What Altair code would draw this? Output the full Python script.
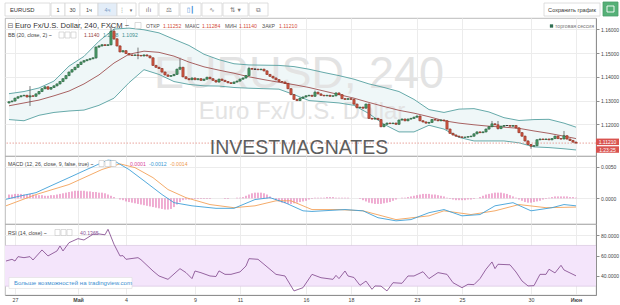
import altair as alt
import pandas as pd

FONT = "Liberation Sans"
GRID = "#ececec"
AXC = "#8f8f8f"

# ---------------- data ----------------
closes = [
    1.1295, 1.1298, 1.1310, 1.1316, 1.1320, 1.1322, 1.1315, 1.1320, 1.1318, 1.1328,
    1.1338, 1.1350, 1.1358, 1.1348, 1.1355, 1.1362, 1.1370, 1.1380, 1.1392, 1.1405,
    1.1420, 1.1430, 1.1440, 1.1452, 1.1462, 1.1468, 1.1472, 1.1476, 1.1480, 1.1525,
    1.1530, 1.1535, 1.1532, 1.1535, 1.1592, 1.1560, 1.1530, 1.1505, 1.1510, 1.1498,
    1.1492, 1.1490, 1.1492, 1.1490, 1.1488, 1.1492, 1.1488, 1.1480, 1.1448, 1.1440,
    1.1435, 1.1420, 1.1408, 1.1402, 1.1405, 1.1410, 1.1432, 1.1440, 1.1400, 1.1392,
    1.1388, 1.1395, 1.1388, 1.1392, 1.1385, 1.1390, 1.1398, 1.1392, 1.1385, 1.1378,
    1.1390, 1.1385, 1.1380, 1.1375, 1.1372, 1.1378, 1.1382, 1.1390, 1.1395, 1.1405,
    1.1435, 1.1432, 1.1432, 1.1430, 1.1432, 1.1425, 1.1410, 1.1402, 1.1395, 1.1388,
    1.1380, 1.1378, 1.1372, 1.1350, 1.1325, 1.1305, 1.1300, 1.1310, 1.1315, 1.1320,
    1.1322, 1.1318, 1.1335, 1.1328, 1.1322, 1.1320, 1.1322, 1.1318, 1.1320, 1.1332,
    1.1325, 1.1308, 1.1305, 1.1308, 1.1305, 1.1285, 1.1270, 1.1272, 1.1268, 1.1285,
    1.1225, 1.1222, 1.1225, 1.1220, 1.1190, 1.1200, 1.1205, 1.1203, 1.1205, 1.1200,
    1.1218, 1.1222, 1.1215, 1.1222, 1.1225, 1.1230, 1.1235, 1.1215, 1.1210, 1.1205,
    1.1208, 1.1220, 1.1218, 1.1215, 1.1218, 1.1215, 1.1180, 1.1162, 1.1155, 1.1150,
    1.1147, 1.1145, 1.1146, 1.1148, 1.1150, 1.1160, 1.1168, 1.1165, 1.1168, 1.1180,
    1.1190, 1.1202, 1.1198, 1.1182, 1.1192, 1.1195, 1.1195, 1.1192, 1.1195, 1.1185,
    1.1165, 1.1150, 1.1130, 1.1115, 1.1108, 1.1110, 1.1135, 1.1138, 1.1136, 1.1138,
    1.1135, 1.1140, 1.1150, 1.1140, 1.1138, 1.1152, 1.1138, 1.1132, 1.1125, 1.1121,
]
FIRST_OPEN = 1.1290
WICK = 0.0002
long_wick_bars = [7, 29, 34, 35, 43, 57, 80, 102, 161, 163, 174, 185]
long_wick_high = [1.1361, 1.1528, 1.1616, 1.1600, 1.1523, 1.1475, 1.1442, 1.1342, 1.1214, 1.1214, 1.1117, 1.1172]
long_wick_low = [1.1277, 1.1476, 1.1532, 1.1555, 1.1474, 1.1428, 1.1403, 1.1316, 1.1188, 1.1178, 1.1097, 1.1138]
ohlc_last = [1.11252, 1.11284, 1.11140, 1.11210]

bb_bars = list(range(0, 186, 5)) + [189]
bb_upper = [1.1329, 1.1338, 1.1353, 1.1382, 1.1445, 1.1486, 1.1550, 1.1601, 1.1605, 1.1598,
            1.1585, 1.1558, 1.1532, 1.1495, 1.1472, 1.1455, 1.1450, 1.1449, 1.1448, 1.1443,
            1.1432, 1.1418, 1.1405, 1.1390, 1.1370, 1.1355, 1.1338, 1.1305, 1.1262, 1.1250,
            1.1264, 1.1266, 1.1252, 1.1228, 1.1216, 1.1220, 1.1221, 1.1205, 1.1188]
bb_basis = [1.1278, 1.1290, 1.1302, 1.1320, 1.1340, 1.1370, 1.1408, 1.1458, 1.1495, 1.1508,
            1.1503, 1.1487, 1.1462, 1.1442, 1.1428, 1.1415, 1.1400, 1.1388, 1.1377, 1.1367,
            1.1355, 1.1340, 1.1325, 1.1310, 1.1292, 1.1275, 1.1259, 1.1247, 1.1232, 1.1215,
            1.1205, 1.1198, 1.1192, 1.1188, 1.1183, 1.1172, 1.1162, 1.1150, 1.1140]
bb_lower = [1.1220, 1.1215, 1.1238, 1.1250, 1.1256, 1.1260, 1.1280, 1.1310, 1.1375, 1.1430,
            1.1410, 1.1380, 1.1368, 1.1362, 1.1361, 1.1355, 1.1352, 1.1350, 1.1348, 1.1325,
            1.1300, 1.1295, 1.1290, 1.1280, 1.1245, 1.1200, 1.1168, 1.1168, 1.1196, 1.1180,
            1.1145, 1.1130, 1.1130, 1.1130, 1.1122, 1.1105, 1.1102, 1.1097, 1.1092]

macd_bars = [-1, 4, 9, 14, 20, 25, 31, 33, 35, 40, 45, 51, 55, 61, 69, 75, 82, 87, 92, 98,
             101, 112, 118, 123, 129, 134, 140, 145, 151, 157, 162, 168, 174, 181, 185, 189]
macd_vals = [-0.00016, 0.0004, 0.0009, 0.0020, 0.0033, 0.0044, 0.0057, 0.0061, 0.0060, 0.0046,
             0.0028, 0.0006, -0.0007, -0.0012, -0.0016, -0.0016, -0.0002, 0.0001, -0.0007, -0.0020,
             -0.0021, -0.0018, -0.0020, -0.0031, -0.0036, -0.0034, -0.0023, -0.0018, -0.0028, -0.0026,
             -0.0012, -0.0007, -0.0020, -0.0015, -0.0010, -0.0012]
signal_bars = [-1, 9, 20, 31, 37, 42, 48, 53, 59, 67, 75, 82, 89, 94, 101, 110, 118, 129, 140,
               145, 154, 162, 170, 179, 189]
signal_vals = [-0.0012, 0.0006, 0.0022, 0.0046, 0.0055, 0.0049, 0.0033, 0.0014, 0.0001, -0.0010,
               -0.0015, -0.0012, -0.0004, -0.0004, -0.0018, -0.0018, -0.0020, -0.0034, -0.0028,
               -0.0020, -0.0026, -0.0020, -0.0010, -0.0015, -0.0014]
hist_e4 = (
    [6, 6, 7, 7, 7, 6, 6, 7, 6] +
    [5, 5, 5, 4, 4, 5, 5, 6] +
    [7, 8, 9, 10, 11, 12, 12, 12, 12, 11, 11] +
    [10, 10, 9, 9, 8, 6, 4] +
    [2, 0, -2] +
    [-3, -5, -6, -7, -8, -9, -10, -11, -12, -13, -14, -15, -16, -17, -18, -18, -17, -14, -10, -6, -3] +
    [-2, -2, -1, -1, -1, -1, -1, -1, -1, 0, 0, 0, 0, -1, -1, 0, 0, 1, 1, 2] +
    [4, 6, 8, 9, 9, 9, 8, 6, 3] +
    [-1, -3, -5, -7, -8, -9, -9, -8, -7, -6, -5, -4, -2, -1] +
    [1, 1, 1, 1, 2, 2, 2, 1, 1, 1, 1, 1, 0, 0, 0, -1] +
    [-3, -5, -7, -8, -9, -9, -9, -8, -7, -6, -4, -2] +
    [0, 1, 1, 2, 3] +
    [4, 5, 6, 7, 7, 7, 6, 6, 5, 4, 3, 1] +
    [-1, -2, -3, -3, -3, -3, -2, -2, -1, 0] +
    [2, 4, 6, 7, 8, 9, 9, 9, 8, 7, 5, 3, 1] +
    [-2, -4, -6, -7, -7, -6, -5, -4, -2, -1] +
    [1, 2, 3, 3, 3, 3, 3, 2, 2, 1]
)

rsi_bars = [-1, 1, 2, 3, 5, 7, 8, 11, 13, 16, 17, 18, 20, 23, 25, 28, 30, 32, 33, 35, 37, 38, 39,
            43, 44, 48, 50, 53, 57, 59, 61, 62, 64, 67, 69, 70, 72, 74, 77, 79, 80, 83, 85, 89,
            92, 94, 95, 98, 101, 104, 108, 109, 110, 112, 113, 115, 117, 119, 121, 122, 124, 126,
            128, 131, 133, 135, 138, 140, 143, 146, 148, 151, 153, 155, 157, 159, 161, 162, 163,
            167, 169, 171, 173, 175, 177, 179, 180, 182, 184, 185, 189]
rsi_vals = [54.7, 56.4, 54.7, 59.0, 58.0, 59.0, 55.7, 65.6, 59.7, 64.6, 69.5, 64.6, 72.7, 76.7,
            75.4, 81.0, 81.3, 80.5, 85.9, 71.2, 59.7, 60.0, 56.4, 58.0, 56.0, 44.9, 40.0, 36.7,
            47.2, 43.3, 37.4, 44.9, 43.2, 40.0, 39.5, 45.0, 41.6, 41.6, 44.0, 49.8, 57.0, 56.4,
            51.5, 41.6, 40.0, 30.2, 25.3, 28.5, 41.6, 38.3, 36.7, 40.6, 37.4, 44.9, 40.0, 38.5,
            30.8, 35.0, 26.9, 30.2, 30.0, 25.3, 33.4, 32.8, 40.0, 40.0, 44.2, 37.4, 43.3, 41.6,
            33.4, 28.5, 31.8, 31.5, 37.4, 46.6, 53.8, 47.2, 51.5, 51.0, 43.9, 35.1, 30.2, 30.5,
            41.6, 41.6, 46.6, 43.0, 50.5, 45.9, 40.1365]
rsi_band = [30, 70]

tick_bars = [2, 23, 39, 62, 77, 99, 114, 136, 151, 174, 189]
tick_text = ["27", "Май", "4", "9", "11", "16", "18", "23", "25", "30", "Июн"]
month_ticks = [23, 189]
price_ticks = [1.12, 1.13, 1.14, 1.15, 1.16]
macd_ticks = [0.0, 0.005]
rsi_ticks = [40, 60, 80]

# ---------------- tables ----------------
opens = [FIRST_OPEN] + closes[:-1]
rows = []
for i, (o, c) in enumerate(zip(opens, closes)):
    hi, lo = max(o, c) + WICK, min(o, c) - WICK
    if i in long_wick_bars:
        k = long_wick_bars.index(i)
        hi, lo = long_wick_high[k], long_wick_low[k]
    d = "up" if c - o > 0.00004 else ("down" if o - c > 0.00004 else "flat")
    rows.append(dict(i=i, open=o, close=c, high=hi, low=lo, dir=d))
candles = pd.DataFrame(rows)
bb = pd.DataFrame(dict(i=bb_bars, upper=bb_upper, basis=bb_basis, lower=bb_lower))
macd_df = pd.DataFrame(dict(i=macd_bars, v=macd_vals))
sig_df = pd.DataFrame(dict(i=signal_bars, v=signal_vals))
hist_df = pd.DataFrame(dict(i=list(range(len(hist_e4))), h=[h * 1e-4 for h in hist_e4]))
rsi_df = pd.DataFrame(dict(i=rsi_bars, v=rsi_vals))

# ---------------- scales / axes ----------------
W = 591
xs = alt.Scale(domain=[-1.333, 195.667], nice=False, zero=False)
label_expr = " : ".join(f"datum.value == {b} ? '{t}'" for b, t in zip(tick_bars, tick_text)) + " : ''"
month_test = " || ".join(f"datum.value == {b}" for b in month_ticks)

x_hidden = alt.Axis(values=tick_bars, grid=True, gridColor=GRID, ticks=False, domain=False,
                    labels=False, title=None)
x_shown = alt.Axis(values=tick_bars, grid=True, gridColor=GRID, ticks=False, domain=True,
                   domainColor=AXC, labels=True, labelExpr=label_expr, labelFont=FONT,
                   labelFontSize=5.3, labelColor="#444", labelPadding=2, labelFlush=False,
                   labelOverlap=False, title=None,
                   labelFontWeight={"condition": {"test": month_test, "value": "bold"}, "value": "normal"})


def yaxis(values, fmt):
    return alt.Axis(orient="right", values=values, format=fmt, grid=True, gridColor=GRID,
                    domain=True, domainColor=AXC, ticks=True, tickColor=AXC, tickSize=3,
                    labelFont=FONT, labelFontSize=5, labelColor="#444", labelPadding=1.5,
                    title=None)


ys_price = alt.Scale(domain=[1.10666, 1.16476], nice=False, zero=False)
ys_macd = alt.Scale(domain=[-0.004105, 0.006757], nice=False, zero=False)
ys_rsi = alt.Scale(domain=[21.3, 91.1], nice=False, zero=False)
ax_price = yaxis(price_ticks, ".5f")
ax_macd = yaxis(macd_ticks, ".4f")
ax_rsi = yaxis(rsi_ticks, ".4f")


def X(f, axis):
    return alt.X(f, type="quantitative", scale=xs, axis=axis)


def Y(f, scale, axis):
    return alt.Y(f, type="quantitative", scale=scale, axis=axis)


ONE = [{"a": 1}]


def txt(s, px, py, ox, oy, size=5.2, color="#444", align="left", weight="normal",
        font=FONT, baseline="middle"):
    return alt.Chart(alt.Data(values=[{"t": s}])).mark_text(
        align=align, baseline=baseline, fontSize=size, color=color, fontWeight=weight, font=font
    ).encode(x=alt.value(px - ox), y=alt.value(py - oy), text="t:N")


def box(x1, y1, x2, y2, ox, oy, fill="white", stroke="#d6d6d6", sw=0.8):
    return alt.Chart(alt.Data(values=ONE)).mark_rect(fill=fill, stroke=stroke, strokeWidth=sw).encode(
        x=alt.value(x1 - ox), x2=alt.value(x2 - ox), y=alt.value(y1 - oy), y2=alt.value(y2 - oy))


def icons(x, y, ox, oy):
    return [box(x + 6 * k, y - 3, x + 6 * k + 5, y + 3, ox, oy, fill="white", stroke="#c4c4c4", sw=0.6)
            for k in range(3)]


# ---------------- toolbar ----------------
TX, TY = 3, 0
tb = [
    box(3, 2, 48, 15, TX, TY), txt("EURUSD", 8, 8.5, TX, TY, size=5.8, color="#333"),
    box(49, 2, 63, 15, TX, TY), box(63, 2, 78, 15, TX, TY), box(78, 2, 96, 15, TX, TY),
    box(96, 2, 115, 15, TX, TY, fill="#e3edf8"), box(115, 2, 134, 15, TX, TY),
    txt("1", 56, 8.5, TX, TY, size=5.5, align="center"),
    txt("30", 70.5, 8.5, TX, TY, size=5.5, align="center"),
    txt("1ч", 87, 8.5, TX, TY, size=5.5, align="center"),
    txt("4ч", 105.5, 8.5, TX, TY, size=5.5, align="center", color="#7a9cc6"),
    txt("⋮", 120, 8.5, TX, TY, size=6, align="center", font="DejaVu Sans", color="#666"),
    txt("▾", 129, 8.5, TX, TY, size=5, align="center", font="DejaVu Sans", color="#666"),
]
for (a, b_), g, col in [((137, 156), "ılı", "#777"), ((157, 177), "⚖", "#777"),
                        ((178, 199), "▯┃", "#3d8ed6"), ((200, 220), "∿", "#777"),
                        ((221, 246), "⇅ ▾", "#777"), ((247, 266), "⧉", "#777")]:
    tb.append(box(a, 2, b_, 15, TX, TY))
    tb.append(txt(g, (a + b_) / 2, 8.5, TX, TY, size=6.5, align="center", font="DejaVu Sans", color=col))
tb += [
    box(542, 2, 598, 15, TX, TY), txt("Сохранить график", 570, 8.5, TX, TY, size=5.6, align="center", color="#333"),
    box(601, 1, 616, 15, TX, TY, fill="#55b077", stroke="#4a9f69"),
    box(605, 5, 612, 11, TX, TY, fill="#55b077", stroke="white", sw=0.9),
]
toolbar = alt.layer(*tb).properties(width=W, height=17, view=alt.ViewBackground(stroke="transparent"))

# ---------------- main price pane ----------------
MX, MY = 3, 17
up_dn = alt.Scale(domain=["up", "down", "flat"], range=["#4f9e6c", "#d25a45", "#333333"])
up_dn_stroke = alt.Scale(domain=["up", "down", "flat"], range=["#24603b", "#8f2c1f", "#333333"])

base_bb = alt.Chart(bb)
bb_fill = base_bb.mark_area(color="#eff7f8").encode(
    x=X("i", x_hidden), y=Y("upper", ys_price, ax_price), y2="lower")
bb_up = base_bb.mark_line(color="#4c9b9b", strokeWidth=0.85).encode(x=X("i", x_hidden), y=Y("upper", ys_price, ax_price))
bb_lo = base_bb.mark_line(color="#4c9b9b", strokeWidth=0.85).encode(x=X("i", x_hidden), y=Y("lower", ys_price, ax_price))
bb_mid = base_bb.mark_line(color="#9b4747", strokeWidth=0.85).encode(x=X("i", x_hidden), y=Y("basis", ys_price, ax_price))

watermark = [
    txt("EURUSD, 240", 152, 87, MX, MY, size=45, color="#e3e3e3", baseline="alphabetic"),
    txt("Euro Fx/U.S. Dollar", 300, 118, MX, MY, size=24, color="#e3e3e3", align="center", baseline="alphabetic"),
]

hdr = [
    txt("⊟", 8.5, 24.5, MX, MY, size=7, color="#666", align="center", font="DejaVu Sans"),
    txt("Euro Fx/U.S. Dollar, 240, FXCM ~", 13, 24.5, MX, MY, size=7.6, color="#333"),
    box(133, 21.5, 139, 27.5, MX, MY, stroke="#c4c4c4", sw=0.6),
]
for lab, val, lx, vx in zip(["ОТКР", "МАКС", "МИН", "ЗАКР"], ohlc_last, [144, 183, 223, 260], [161, 200, 237, 277]):
    hdr.append(txt(lab, lx, 24.5, MX, MY, color="#555"))
    hdr.append(txt(f"{val:.5f}", vx, 24.5, MX, MY, color="#d4503c"))
hdr.append(txt("BB (20, close, 2) ~", 6, 34, MX, MY, size=5.3, color="#444"))
hdr += icons(57, 34, MX, MY)
hdr += [
    txt(f"{bb_basis[-1]:.4f}", 82, 34, MX, MY, color="#963f3f"),
    txt(f"{bb_upper[-1]:.4f}", 101, 34, MX, MY, color="#3f8f8f"),
    txt(f"{bb_lower[-1]:.4f}", 120, 34, MX, MY, color="#3f8f8f"),
    box(548, 23.5, 551, 26.5, MX, MY, fill="#2f6f52", stroke="#2f6f52", sw=0.3),
    txt("торговая сессия", 553, 25, MX, MY, size=5.2, color="#777"),
]

last_df = pd.DataFrame({"p": [closes[-1]]})
price_line = alt.Chart(last_df).mark_rule(color="#e79a92", strokeDash=[1.5, 1.5], strokeWidth=0.9).encode(
    y=Y("p", ys_price, ax_price))

cbase = alt.Chart(candles).transform_calculate(xa="datum.i - 0.37", xb="datum.i + 0.37")
wicks = alt.Chart(candles).mark_rule(color="#444", strokeWidth=0.7).encode(
    x=X("i", x_hidden), y=Y("low", ys_price, ax_price), y2="high")
bodies = cbase.mark_rect(strokeWidth=0.6).encode(
    x=X("xa", x_hidden), x2="xb:Q", y=Y("open", ys_price, ax_price), y2="close:Q",
    fill=alt.Fill("dir:N", scale=up_dn, legend=None),
    stroke=alt.Stroke("dir:N", scale=up_dn_stroke, legend=None))
dojis = cbase.transform_filter("datum.dir == 'flat'").mark_rule(color="#333", strokeWidth=0.9).encode(
    x=X("xa", x_hidden), x2="xb:Q", y=Y("close", ys_price, ax_price))

tag = alt.Chart(last_df)
price_tag = [
    tag.mark_rect(color="#d9534f", yOffset=-4.5, y2Offset=2).encode(
        x=alt.value(594 - MX), x2=alt.value(617 - MX), y=Y("p", ys_price, ax_price), y2="p:Q"),
    tag.mark_text(color="white", fontSize=5, font=FONT, align="center", baseline="middle", dy=-1.3).encode(
        x=alt.value(605.5 - MX), y=Y("p", ys_price, ax_price), text=alt.Text("p:Q", format=".5f")),
    tag.mark_rect(color="#d9534f", yOffset=3.2, y2Offset=9.7).encode(
        x=alt.value(594 - MX), x2=alt.value(617 - MX), y=Y("p", ys_price, ax_price), y2="p:Q"),
    txt("1:23:25", 605.5, 148.6, MX, MY, size=5, color="white", align="center"),
]

brand = txt("INVESTMAGNATES", 297, 153, MX, MY, size=19.5, color="#5e5e5e", align="center", baseline="alphabetic")

main = alt.layer(bb_fill, *watermark, bb_up, bb_lo, bb_mid, *hdr, price_line, wicks, bodies, dojis,
                 *price_tag, brand).properties(width=W, height=138)

# ---------------- MACD pane ----------------
CX, CY = 3, 155
hist = alt.Chart(hist_df).mark_rule(color="#dd4a9c", strokeWidth=0.9).encode(
    x=X("i", x_hidden), y=Y("h", ys_macd, ax_macd), y2=alt.datum(0))
macd_line = alt.Chart(macd_df).mark_line(color="#3fa0d8", strokeWidth=0.9).encode(
    x=X("i", x_hidden), y=Y("v", ys_macd, ax_macd))
sig_line = alt.Chart(sig_df).mark_line(color="#f3a159", strokeWidth=0.9).encode(
    x=X("i", x_hidden), y=Y("v", ys_macd, ax_macd))
macd_hdr = [txt("MACD (12, 26, close, 9, false, true) ~", 6, 162.5, CX, CY, size=5.2, color="#444")]
macd_hdr += icons(97, 162.5, CX, CY)
macd_hdr += [
    txt(f"{hist_e4[-1] * 1e-4:.4f}", 128, 162.5, CX, CY, color="#d9489a"),
    txt(f"{macd_vals[-1]:.4f}", 147, 162.5, CX, CY, color="#3a9ad4"),
    txt(f"{signal_vals[-1]:.4f}", 168, 162.5, CX, CY, color="#ee9a4f"),
]
macd = alt.layer(hist, sig_line, macd_line, *macd_hdr).properties(width=W, height=68)

# ---------------- RSI pane ----------------
RX, RY = 3, 223
band_df = pd.DataFrame({"lo": [rsi_band[0]], "hi": [rsi_band[1]]})
band = alt.Chart(band_df).mark_rect(color="#f4e5fb").encode(y=Y("hi", ys_rsi, ax_rsi), y2="lo:Q")
band_hi = alt.Chart(band_df).mark_rule(color="#d8c6e0", strokeWidth=0.7).encode(y=Y("hi", ys_rsi, ax_rsi))
band_lo = alt.Chart(band_df).mark_rule(color="#d8c6e0", strokeWidth=0.7).encode(y=Y("lo", ys_rsi, ax_rsi))
rsi_line = alt.Chart(rsi_df).mark_line(color="#8a5595", strokeWidth=0.9).encode(
    x=X("i", x_shown), y=Y("v", ys_rsi, ax_rsi))
rsi_hdr = [txt("RSI (14, close) ~", 6, 231.5, RX, RY, size=5.2, color="#444")]
rsi_hdr += icons(53, 231.5, RX, RY)
rsi_hdr += [
    txt(f"{rsi_vals[-1]:.4f}", 78, 231.5, RX, RY, color="#8d5a98"),
    box(7, 276.5, 130, 287.5, RX, RY, fill="white", stroke="#dddddd", sw=0.6),
    txt("Больше возможностей на tradingview.com", 12, 282, RX, RY, size=6.1, color="#3d8fd1"),
]
rsi = alt.layer(band, band_hi, band_lo, rsi_line, *rsi_hdr).properties(width=W, height=71)

chart = alt.vconcat(toolbar, main, macd, rsi, spacing=0, bounds="flush").resolve_scale(
    x="independent", y="independent"
).properties(
    padding={"left": 3, "top": 0, "right": 0, "bottom": 0}, background="white"
).configure_view(stroke="#a9a9a9", strokeWidth=0.8)

chart.save("out.html", embed_options={"renderer": "svg", "actions": False})
